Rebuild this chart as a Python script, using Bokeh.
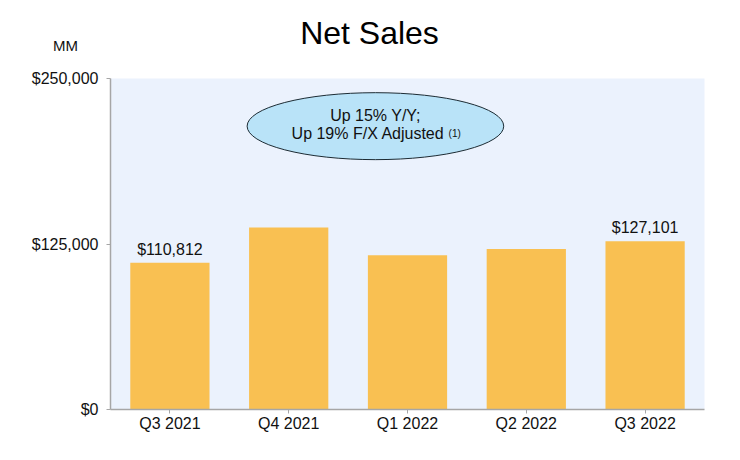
from bokeh.embed import file_html
from bokeh.models import ColumnDataSource, FixedTicker, Label, NumeralTickFormatter, Range1d
from bokeh.plotting import figure
from bokeh.resources import INLINE
from bokeh.core.properties import value

FONT = "Liberation Sans"

quarters = ['Q3 2021', 'Q4 2021', 'Q1 2022', 'Q2 2022', 'Q3 2022']
net_sales = [110812, 137412, 116444, 121234, 127101]
labelled = ['Q3 2021', 'Q3 2022']
y_ticks = [0, 125000, 250000]

x = [i + 0.5 for i in range(len(quarters))]

p = figure(width=728, height=448, output_backend="svg", toolbar_location=None,
	x_range=Range1d(0, len(quarters)), y_range=Range1d(0, 250000),
	min_border_left=110, min_border_right=24, min_border_top=78, min_border_bottom=39)
p.outline_line_color = None
p.background_fill_color = '#ebf2fd'
p.grid.visible = False

p.vbar(x=x, top=net_sales, width=0.667, color='#f9c052', line_color=None)

# only the first and the last bar carry a value
idx = [quarters.index(q) if i == 0 else len(quarters) - 1 for i, q in enumerate(labelled)]
labels = ColumnDataSource(dict(
	x=[x[i] for i in idx],
	y=[net_sales[i] for i in idx],
	text=['$' + format(net_sales[i], ',') for i in idx]))
p.text('x', 'y', 'text', source=labels, text_align='center', text_baseline='bottom', y_offset=-5,
	text_font=value(FONT), text_font_size='16px', text_color='#111111')

# callout
p.ellipse(x=2.23, y=214000, width=2.16, height=50600, fill_color='#b9e3f8', line_color='#1c2b33', line_width=1)
for lx, ly, txt, size, align in [
	(2.23, 221800, 'Up 15% Y/Y;', '16px', 'center'),
	(2.168, 208200, 'Up 19% F/X Adjusted', '16px', 'center'),
	(2.846, 208200, '(1)', '10px', 'left')]:
	p.add_layout(Label(x=lx, y=ly, text=txt, text_align=align, text_baseline='middle',
		text_font=FONT, text_font_size=size, text_color='#111111'))

# labels only show outside the frame when they get a side panel of their own
p.add_layout(Label(x=62, y=364, x_units='screen', y_units='screen', text='MM', text_align='center',
	text_baseline='middle', text_font=FONT, text_font_size='15px', text_color='#111111'), 'left')
p.add_layout(Label(x=259, y=46, x_units='screen', y_units='screen', text='Net Sales', text_align='center',
	text_baseline='middle', text_font=FONT, text_font_size='32px', text_color='#000000'), 'above')

p.xaxis.ticker = FixedTicker(ticks=x)
p.xaxis.major_label_overrides = dict(zip(x, quarters))
p.yaxis.ticker = FixedTicker(ticks=y_ticks)
p.yaxis.formatter = NumeralTickFormatter(format='$0,0')
for ax in (p.xaxis, p.yaxis):
	ax.axis_line_color = '#a6a6a6'
	ax.axis_line_width = 1.5
	ax.major_tick_line_color = '#a6a6a6'
	ax.major_tick_out = 4
	ax.major_tick_in = 0
	ax.minor_tick_line_color = None
	ax.major_label_text_font = FONT
	ax.major_label_text_color = '#111111'
p.xaxis.major_label_text_font_size = '16px'
p.yaxis.major_label_text_font_size = '16px'
p.xaxis.major_label_standoff = 1
p.yaxis.major_label_standoff = 8

open("out.html", "w").write(file_html(p, INLINE))
